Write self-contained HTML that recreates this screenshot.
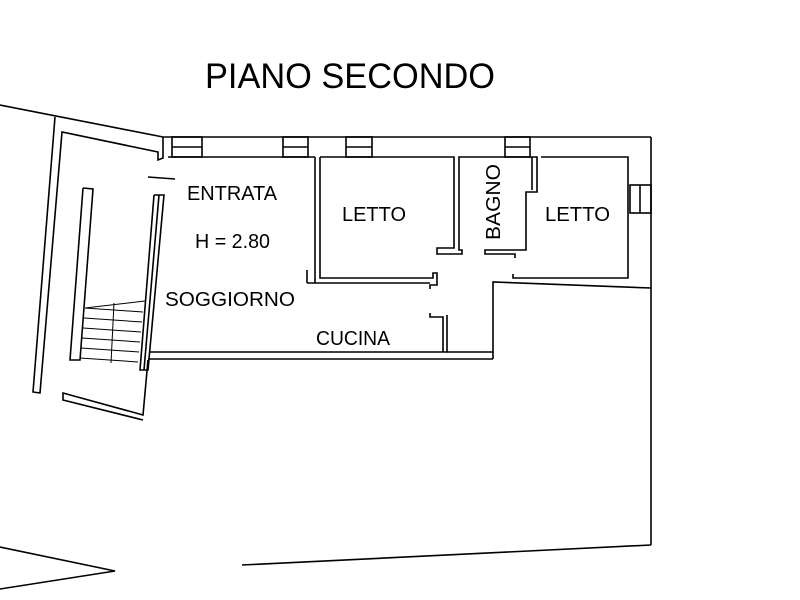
<!DOCTYPE html>
<html><head><meta charset="utf-8"><style>
html,body{margin:0;padding:0;background:#fff;}
svg{display:block}
text{font-family:"Liberation Sans",Arial,sans-serif;fill:#000}
</style></head><body>
<svg width="800" height="600" viewBox="0 0 800 600" xmlns="http://www.w3.org/2000/svg">
<g fill="none" stroke="#000" stroke-width="1.6">
<polyline points="0,105 163,137 651,137"/>
<line x1="651" y1="137" x2="651" y2="545"/>
<line x1="651" y1="545" x2="242" y2="565"/>
<polyline points="0,547 115,571 0,589"/>
<line x1="168" y1="157" x2="315" y2="157"/>
<line x1="315" y1="157" x2="315" y2="283"/>
<polyline points="320,157 320,278 433,278 433,273 437,273 437,285 430,285 430,289"/>
<line x1="307" y1="283" x2="430" y2="283"/>
<polyline points="307,270 307,283"/>
<polyline points="320,157 454,157 454,248 437,248 437,254 462,254 462,250 459,250 459,157 537,157 537,192 526,192 526,250 485,250 485,254 515,254 515,258"/>
<polyline points="541,157 628,157 628,278 513,278 513,274"/>
<line x1="532" y1="157" x2="532" y2="190"/>
<polyline points="493,359 493,282 651,288"/>
<polyline points="447,315 447,352 150,352"/>
<polyline points="430,313 430,317 443,317 443,352"/>
<polyline points="148,359 493,359"/>
<polyline points="447,352 493,352"/>
<rect x="172" y="137" width="30" height="20"/><line x1="172" y1="147" x2="202" y2="147"/>
<rect x="283" y="137" width="25" height="20"/><line x1="283" y1="147" x2="308" y2="147"/>
<rect x="346" y="137" width="26" height="20"/><line x1="346" y1="147" x2="372" y2="147"/>
<rect x="505" y="137" width="25" height="20"/><line x1="505" y1="147" x2="530" y2="147"/>
<rect x="630" y="185" width="21" height="28"/><line x1="640" y1="185" x2="640" y2="213"/>
<polyline points="55,117 33,392 40,393 62,132 158,152 158,160 163,158 163,137"/>
<polyline points="83,188 93,189 80,360 70,360 83,188"/>
<polyline points="154,195 164,195 148,370 140,370 154,195"/>
<line x1="159" y1="195" x2="144" y2="370"/>
<polyline points="148,360 143,415 63,393 63,400 143,420"/>
<line x1="148" y1="177" x2="175" y2="179"/>
<g stroke-width="1">
<line x1="85" y1="308" x2="145" y2="301"/>
<line x1="85" y1="308" x2="143" y2="312"/>
<line x1="84" y1="318" x2="142" y2="322"/>
<line x1="83" y1="328" x2="141" y2="332"/>
<line x1="82" y1="338" x2="140" y2="342"/>
<line x1="81" y1="348" x2="139" y2="352"/>
<line x1="80" y1="358" x2="138" y2="362"/>
<line x1="114" y1="303" x2="111" y2="363"/>
</g>
</g>
<text x="205" y="88" font-size="35" textLength="290" lengthAdjust="spacingAndGlyphs">PIANO SECONDO</text>
<text x="187" y="200" font-size="20" textLength="90" lengthAdjust="spacingAndGlyphs">ENTRATA</text>
<text x="195" y="248" font-size="20" textLength="75" lengthAdjust="spacingAndGlyphs">H = 2.80</text>
<text x="165" y="306" font-size="20" textLength="130" lengthAdjust="spacingAndGlyphs">SOGGIORNO</text>
<text x="342" y="221" font-size="20" textLength="64" lengthAdjust="spacingAndGlyphs">LETTO</text>
<text x="545" y="221" font-size="20" textLength="65" lengthAdjust="spacingAndGlyphs">LETTO</text>
<text x="316" y="345" font-size="20" textLength="74" lengthAdjust="spacingAndGlyphs">CUCINA</text>
<text transform="translate(500,240) rotate(-90)" font-size="20" textLength="76" lengthAdjust="spacingAndGlyphs">BAGNO</text>
</svg>
</body></html>
